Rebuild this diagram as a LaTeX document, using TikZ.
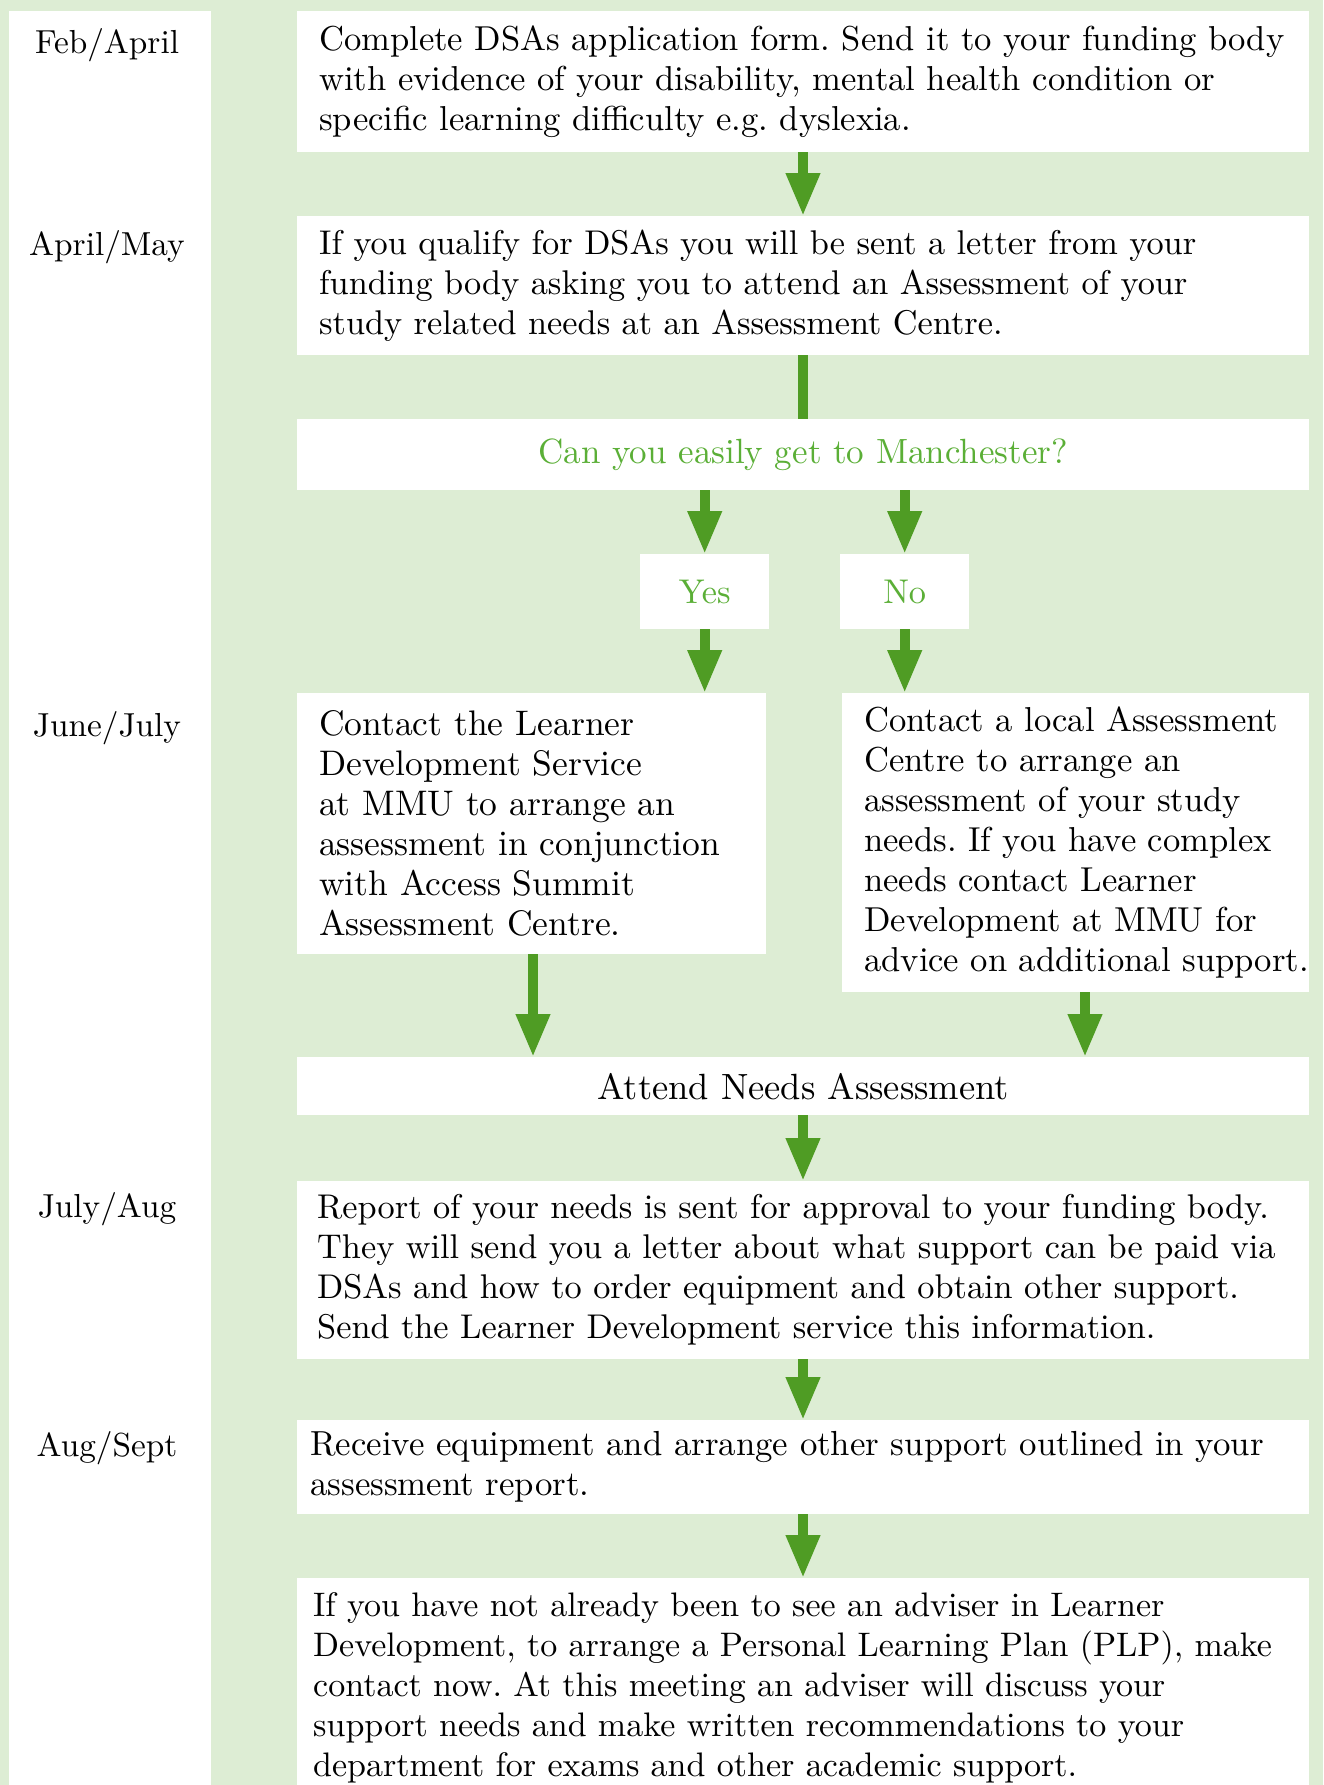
\documentclass[tikz,border=0pt]{standalone}
\usepackage{fontspec}
\setmainfont{lmroman10-regular.otf}
\usetikzlibrary{arrows.meta}
\definecolor{bgg}{HTML}{DDEDD4}
\definecolor{arrg}{HTML}{4F9C24}
\definecolor{txtg}{HTML}{5BAF37}
\begin{document}
\frenchspacing
\begin{tikzpicture}[x=1pt,y=-1pt,
  every node/.style={font=\fontsize{34.3}{40}\selectfont},
  box/.style={fill=white, anchor=north west, inner ysep=0pt, align=left},
  cbox/.style={fill=white, anchor=north west, inner sep=0pt, align=center},
  month/.style={anchor=base, inner sep=0pt, font=\fontsize{33.3}{40}\selectfont},
  arr/.style={draw=arrg, line width=10pt, -{Triangle[width=32pt,length=43pt]}},
  shaft/.style={draw=arrg, line width=10pt}]
\useasboundingbox (0,0) rectangle (1323,1785);
\fill[bgg] (0,0) rectangle (1323,1785);
\fill[white] (9,11) rectangle (211,1785);

% month labels
\node[month] (m1) at (107,53) {Feb/April};
\node[month] (m2) at (107,255) {April/May};
\node[month] (m3) at (107,736) {June/July};
\node[month] (m4) at (107,1217) {July/Aug};
\node[month] (m5) at (107,1456) {Aug/Sept};

% boxes
\node[box, inner xsep=22pt, text width=968pt, minimum height=141pt,
      font=\fontsize{34.6}{40}\selectfont] (b1) at (297,11)
 {Complete DSAs application form. Send it to your funding body\\
  with evidence of your disability, mental health condition or\\
  specific learning difficulty e.g. dyslexia.};
\node[box, inner xsep=22pt, text width=968pt, minimum height=139pt] (b2) at (297,216)
 {If you qualify for DSAs you will be sent a letter from your\\
  funding body asking you to attend an Assessment of your\\
  study related needs at an Assessment Centre.};
\node[cbox, text=txtg, minimum width=1012pt, minimum height=71pt,
      font=\fontsize{35}{40}\selectfont] (q) at (297,419)
 {Can you easily get to Manchester?};
\node[cbox, text=txtg, minimum width=129pt, minimum height=75pt] (yes) at (640,554) {Yes};
\node[cbox, text=txtg, minimum width=129pt, minimum height=75pt] (no) at (840,554) {No};
\node[box, inner xsep=22pt, text width=425pt, minimum height=261pt,
      font=\fontsize{35.5}{40}\selectfont] (ry) at (297,693)
 {Contact the Learner\\
  Development Service\\
  at MMU to arrange an\\
  assessment in conjunction\\
  with Access Summit\\
  Assessment Centre.};
\node[box, inner xsep=22pt, text width=423pt, minimum height=299pt,
      font=\fontsize{34.6}{40}\selectfont] (rn) at (842,693)
 {Contact a local Assessment\\
  Centre to arrange an\\
  assessment of your study\\
  needs. If you have complex\\
  needs contact Learner\\
  Development at MMU for\\
  \mbox{advice on additional support.}};
\node[cbox, minimum width=1012pt, minimum height=58pt,
      font=\fontsize{36.5}{40}\selectfont] (att) at (297,1057)
 {Attend Needs Assessment};
\node[box, inner xsep=20pt, text width=972pt, minimum height=178pt] (rep) at (297,1181)
 {Report of your needs is sent for approval to your funding body.\\
  They will send you a letter about what support can be paid via\\
  DSAs and how to order equipment and obtain other support.\\
  Send the Learner Development service this information.};
\node[box, inner xsep=13pt, text width=986pt, minimum height=94pt,
      font=\fontsize{34.8}{40}\selectfont] (rec) at (297,1420)
 {Receive equipment and arrange other support outlined in your\\
  assessment report.};
\node[box, inner xsep=16pt, text width=980pt, minimum height=219pt,
      font=\fontsize{34}{40}\selectfont] (last) at (297,1578)
 {If you have not already been to see an adviser in Learner\\
  Development, to arrange a Personal Learning Plan (PLP), make\\
  contact now. At this meeting an adviser will discuss your\\
  support needs and make written recommendations to your\\
  department for exams and other academic support.};

% connectors
\coordinate (mx) at (803,0);
\coordinate (lx) at (533,0);
\coordinate (rx) at (1085,0);
\draw[arr] (b1.south -| mx) -- (b2.north -| mx);
\draw[shaft] (b2.south -| mx) -- (q.north -| mx);
\draw[arr] (q.south -| yes.north) -- (yes.north);
\draw[arr] (q.south -| no.north) -- (no.north);
\draw[arr] (yes.south) -- (yes.south |- ry.north);
\draw[arr] (no.south) -- (no.south |- rn.north);
\draw[arr] (ry.south -| lx) -- (att.north -| lx);
\draw[arr] (rn.south -| rx) -- (att.north -| rx);
\draw[arr] (att.south -| mx) -- (rep.north -| mx);
\draw[arr] (rep.south -| mx) -- (rec.north -| mx);
\draw[arr] (rec.south -| mx) -- (last.north -| mx);
\end{tikzpicture}
\end{document}
